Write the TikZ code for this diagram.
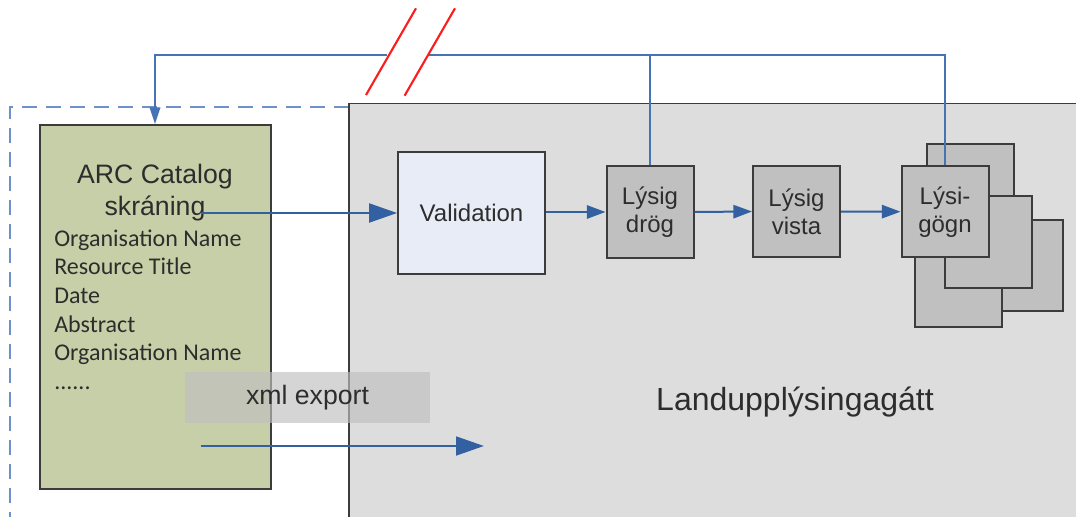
\documentclass[tikz,border=0pt]{standalone}
\usepackage{fontspec}
\setmainfont{Liberation Sans}
\newfontfamily\listfont{Carlito}
\usetikzlibrary{arrows.meta}

\definecolor{arcgreen}{RGB}{199,207,168}
\definecolor{portalgrey}{RGB}{221,221,221}
\definecolor{stepgrey}{RGB}{192,192,192}
\definecolor{valfill}{RGB}{232,236,246}
\definecolor{boxline}{RGB}{60,60,60}
\definecolor{textgrey}{RGB}{45,45,45}
\definecolor{flowblue}{RGB}{50,96,160}
\definecolor{linkblue}{RGB}{70,115,180}
\definecolor{framebl}{RGB}{110,145,200}
\definecolor{cutred}{RGB}{250,30,30}

\tikzset{
  frame/.style={draw=framebl, line width=1.5pt, dash pattern=on 11pt off 7pt},
  portalbox/.style={draw=boxline, line width=1.1pt, fill=portalgrey,
    minimum width=555.75pt, minimum height=319.9pt, inner sep=0pt},
  portaltext/.style={font=\fontsize{24}{28}\selectfont, text=textgrey},
  arcbox/.style={draw=boxline, line width=1.5pt, fill=arcgreen,
    minimum width=173.25pt, minimum height=273pt, inner sep=0pt},
  titletext/.style={font=\fontsize{20}{24}\selectfont, text=textgrey, inner sep=0pt},
  listtext/.style={font=\listfont\fontsize{18}{21.5}\selectfont, text=textgrey,
    anchor=base west, inner sep=0pt},
  valbox/.style={draw=boxline, line width=1.2pt, fill=valfill,
    minimum width=110.25pt, minimum height=91.5pt, inner sep=0pt,
    font=\fontsize{18}{21}\selectfont, text=textgrey},
  stepbox/.style={draw=boxline, line width=1.5pt, fill=stepgrey,
    minimum width=65.25pt, minimum height=68.25pt, inner sep=0pt, align=center,
    font=\fontsize{18}{21}\selectfont, text=textgrey},
  exportbox/.style={fill=black!25, fill opacity=0.65, text opacity=1,
    minimum width=183.75pt, minimum height=38.25pt, inner sep=0pt,
    font=\fontsize{20}{24}\selectfont, text=textgrey},
  bigflow/.style={draw=flowblue, line width=2.2pt,
    -{Triangle[length=21pt, width=14pt]}},
  midflow/.style={draw=flowblue, line width=1.5pt,
    -{Triangle[length=14pt, width=10pt]}},
  backlink/.style={draw=linkblue, line width=1.2pt},
  slash/.style={draw=cutred, line width=1.6pt}
}

\begin{document}
\begin{tikzpicture}[x=0.75pt, y=-0.75pt]
  \useasboundingbox (0,0) rectangle (1076,517);
  \clip (0,0) rectangle (1076,517);

  % frame and portal
  \draw[frame] (349,106.7) -- (10.3,106.7) -- (10.3,530);
  \node[portalbox] (portal) at (719.5,316.75) {};
  \node[portaltext] (portallabel) at (795,401.7) {Landupplýsingagátt};

  % catalogue entry
  \node[arcbox] (arc) at (155,307) {};
  \node[titletext, anchor=base] (arctitle) at (155,184) {ARC Catalog};
  \node[titletext, anchor=base] (arcsub) at (155,215) {skráning};
  \node[listtext] (item1) at (54,246) {Organisation Name};
  \node[listtext] (item2) at (54,274.7) {Resource Title};
  \node[listtext] (item3) at (54,303.3) {Date};
  \node[listtext] (item4) at (54,332) {Abstract};
  \node[listtext] (item5) at (54,360.7) {Organisation Name};
  \node[listtext] (item6) at (54,389.3) {......};

  % steps
  \node[valbox] (val) at (471.5,213) {Validation};
  \node[stepbox] (drog) at (650,212) {Lýsig\\drög};
  \node[stepbox] (vista) at (796.5,211.5) {Lýsig\\vista};
  \node[stepbox] (gogn1) at (970,189.5) {};
  \node[stepbox] (gogn4) at (1019.5,265.4) {};
  \node[stepbox] (gogn3) at (958,281) {};
  \node[stepbox] (gogn2) at (988,242) {};
  \node[stepbox] (gogn) at (945,211.7) {Lýsi-\\gögn};

  % export
  \node[exportbox] (export) at (307.5,397.5) {xml export};

  \coordinate (arcout) at (201,213);
  \coordinate (xmlfrom) at (201,446);
  \coordinate (xmlto) at (484,446);
  \draw[bigflow] (arcout) -- (val.west);
  \draw[bigflow] (xmlfrom) -- (xmlto);
  \draw[midflow] (val.east |- drog.west) -- (drog.west);
  \draw[midflow] (drog.east) -- (vista.west);
  \draw[midflow] (vista.east) -- (gogn.west);

  % feedback to the catalogue
  \coordinate (ret) at (155,55);
  \coordinate (cutL) at (387,55);
  \coordinate (cutR) at (428,55);
  \draw[backlink] (gogn.north) |- (cutR);
  \draw[backlink] (drog.north) -- (drog.north |- ret);
  \draw[backlink, -{Triangle[length=12.5pt, width=8pt]}] (cutL) -- (ret) -- (arc.north);
  \draw[slash] (366,95) -- (416,8.3);
  \draw[slash] (404.6,95.7) -- (455,8.3);
\end{tikzpicture}
\end{document}
